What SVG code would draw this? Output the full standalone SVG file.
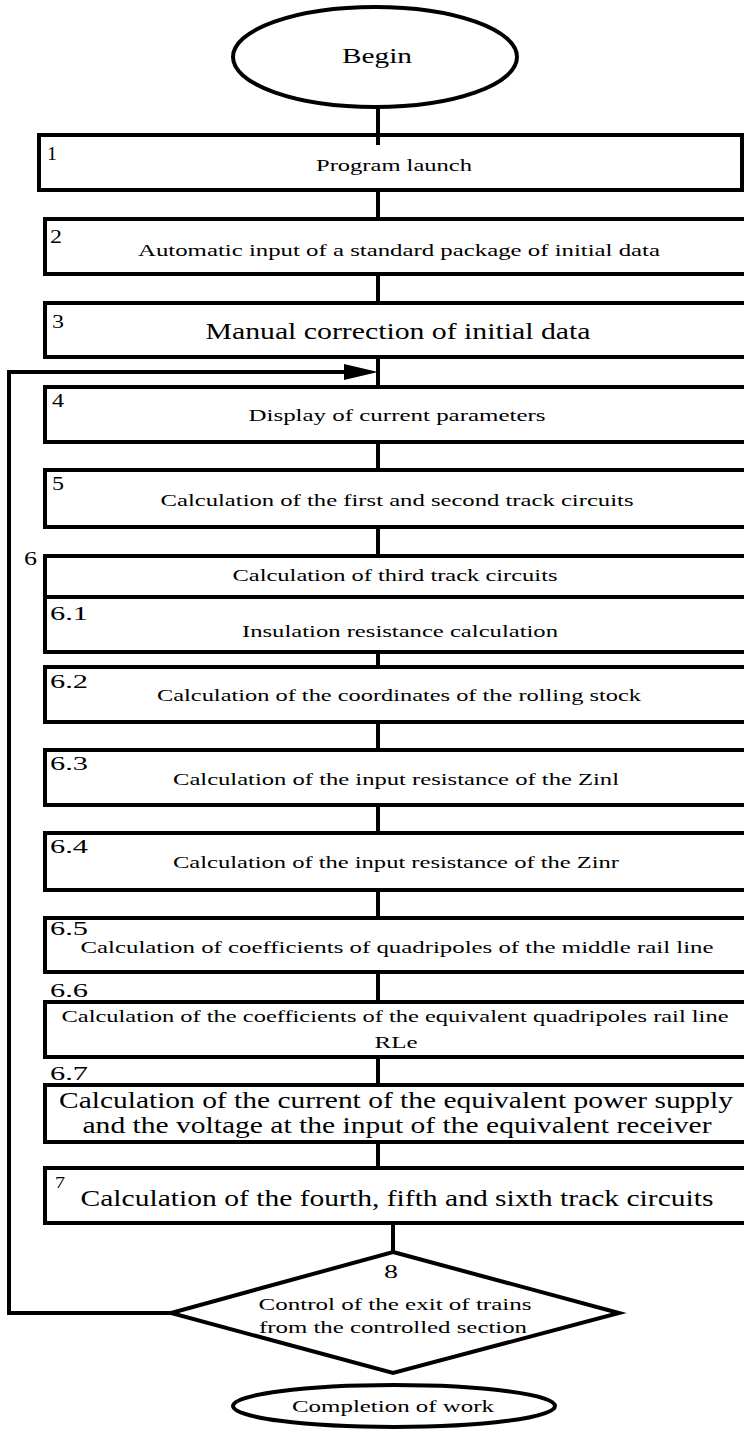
<svg xmlns="http://www.w3.org/2000/svg" width="744" height="1429" viewBox="0 0 744 1429">
<style>
.box{fill:#fff;stroke:#000;stroke-width:4}
.term{fill:#fff;stroke:#000;stroke-width:4}
.ln{fill:none;stroke:#000;stroke-width:4}
text{font-family:"Liberation Serif","Times New Roman",serif;fill:#000}
.t{font-size:16px;text-anchor:middle}
.big{font-size:23px;text-anchor:middle}
.lb{font-size:18px}
</style>
<defs>
<marker id="ah" markerWidth="10" markerHeight="10" refX="0" refY="0" orient="auto" markerUnits="userSpaceOnUse" viewBox="-33 -8 34 16">
<path d="M-33,-8 L0,0 L-33,8 Z" fill="#000"/>
</marker>
</defs>
<g id="connectors">
<line class="ln" x1="378" y1="107" x2="378" y2="145"/>
<line class="ln" x1="378" y1="190" x2="378" y2="219"/>
<line class="ln" x1="378" y1="274" x2="378" y2="303"/>
<line class="ln" x1="378" y1="357" x2="378" y2="387"/>
<line class="ln" x1="378" y1="442" x2="378" y2="470"/>
<line class="ln" x1="378" y1="527" x2="378" y2="556"/>
<line class="ln" x1="378" y1="652" x2="378" y2="667"/>
<line class="ln" x1="378" y1="722" x2="378" y2="750"/>
<line class="ln" x1="378" y1="805" x2="378" y2="833"/>
<line class="ln" x1="378" y1="890" x2="378" y2="918"/>
<line class="ln" x1="378" y1="972" x2="378" y2="1002"/>
<line class="ln" x1="378" y1="1057" x2="378" y2="1085"/>
<line class="ln" x1="378" y1="1142" x2="378" y2="1168"/>
<line class="ln" x1="393" y1="1223" x2="393" y2="1252"/>
<polyline class="ln" points="171,1313 9,1313 9,372 350,372"/>
<path d="M344,364 L378,372 L344,380 Z" fill="#000"/>
</g>
<g id="begin">
<ellipse class="term" cx="375" cy="57" rx="142" ry="50"/>
<text x="377" y="63" font-size="21" text-anchor="middle" textLength="70" lengthAdjust="spacingAndGlyphs">Begin</text>
</g>
<g id="n1">
<rect class="box" x="39" y="135" width="703" height="55"/>
<text class="lb" x="47" y="160" textLength="10" lengthAdjust="spacingAndGlyphs">1</text>
<text class="t" x="394" y="171" textLength="156" lengthAdjust="spacingAndGlyphs">Program launch</text>
</g>
<line class="ln" x1="378" y1="135" x2="378" y2="145"/>
<g id="n2">
<rect class="box" x="45" y="219" width="705" height="55"/>
<text class="lb" x="50" y="243" textLength="12" lengthAdjust="spacingAndGlyphs">2</text>
<text class="t" x="399" y="256" textLength="522" lengthAdjust="spacingAndGlyphs">Automatic input of a standard package of initial data</text>
</g>
<g id="n3">
<rect class="box" x="45" y="303" width="705" height="54"/>
<text class="lb" x="52" y="328" textLength="12" lengthAdjust="spacingAndGlyphs">3</text>
<text x="398" y="339" font-size="24" text-anchor="middle" textLength="385" lengthAdjust="spacingAndGlyphs">Manual correction of initial data</text>
</g>
<g id="n4">
<rect class="box" x="45" y="387" width="705" height="55"/>
<text class="lb" x="52" y="407" textLength="12" lengthAdjust="spacingAndGlyphs">4</text>
<text class="t" x="397" y="421" textLength="297" lengthAdjust="spacingAndGlyphs">Display of current parameters</text>
</g>
<g id="n5">
<rect class="box" x="45" y="470" width="705" height="57"/>
<text class="lb" x="52" y="490" textLength="12" lengthAdjust="spacingAndGlyphs">5</text>
<text class="t" x="397" y="506" textLength="473" lengthAdjust="spacingAndGlyphs">Calculation of the first and second track circuits</text>
</g>
<g id="n6">
<rect class="box" x="45" y="556" width="705" height="96"/>
<line class="ln" x1="45" y1="597" x2="750" y2="597"/>
<text class="lb" x="24" y="565" textLength="13" lengthAdjust="spacingAndGlyphs">6</text>
<text class="t" x="395" y="581" textLength="325" lengthAdjust="spacingAndGlyphs">Calculation of third track circuits</text>
<text class="lb" x="50" y="620" textLength="38" lengthAdjust="spacingAndGlyphs">6.1</text>
<text class="t" x="400" y="637" textLength="316" lengthAdjust="spacingAndGlyphs">Insulation resistance calculation</text>
</g>
<g id="n6_2">
<rect class="box" x="45" y="667" width="705" height="55"/>
<text class="lb" x="50" y="688" textLength="38" lengthAdjust="spacingAndGlyphs">6.2</text>
<text class="t" x="399" y="701" textLength="484" lengthAdjust="spacingAndGlyphs">Calculation of the coordinates of the rolling stock</text>
</g>
<g id="n6_3">
<rect class="box" x="45" y="750" width="705" height="55"/>
<text class="lb" x="50" y="770" textLength="38" lengthAdjust="spacingAndGlyphs">6.3</text>
<text class="t" x="396" y="785" textLength="446" lengthAdjust="spacingAndGlyphs">Calculation of the input resistance of the Zinl</text>
</g>
<g id="n6_4">
<rect class="box" x="45" y="833" width="705" height="57"/>
<text class="lb" x="50" y="853" textLength="38" lengthAdjust="spacingAndGlyphs">6.4</text>
<text class="t" x="396" y="868" textLength="446" lengthAdjust="spacingAndGlyphs">Calculation of the input resistance of the Zinr</text>
</g>
<g id="n6_5">
<rect class="box" x="45" y="918" width="705" height="54"/>
<text class="lb" x="50" y="935" textLength="38" lengthAdjust="spacingAndGlyphs">6.5</text>
<text class="t" x="397" y="953" textLength="633" lengthAdjust="spacingAndGlyphs">Calculation of coefficients of quadripoles  of the middle rail line</text>
</g>
<g id="n6_6">
<rect class="box" x="45" y="1002" width="705" height="55"/>
<text class="lb" x="50" y="997" textLength="38" lengthAdjust="spacingAndGlyphs">6.6</text>
<text class="t" x="395" y="1022" font-size="15" textLength="667" lengthAdjust="spacingAndGlyphs">Calculation of the coefficients of the equivalent quadripoles rail line</text>
<text class="t" x="396" y="1048" font-size="15" textLength="43" lengthAdjust="spacingAndGlyphs">RLe</text>
</g>
<g id="n6_7">
<rect class="box" x="45" y="1085" width="705" height="57"/>
<text class="lb" x="50" y="1080" textLength="38" lengthAdjust="spacingAndGlyphs">6.7</text>
<text class="big" x="396" y="1108" textLength="674" lengthAdjust="spacingAndGlyphs">Calculation of the current of the equivalent power supply</text>
<text class="big" x="397" y="1133" textLength="629" lengthAdjust="spacingAndGlyphs">and the voltage at the input of the equivalent receiver</text>
</g>
<g id="n7">
<rect class="box" x="45" y="1168" width="705" height="55"/>
<text x="55" y="1188" font-size="16" textLength="10" lengthAdjust="spacingAndGlyphs">7</text>
<text class="big" x="397" y="1206" font-size="22" textLength="633" lengthAdjust="spacingAndGlyphs">Calculation of the fourth, fifth and sixth track circuits</text>
</g>
<g id="n8">
<polygon class="box" points="393,1252 619,1313 393,1373 171,1313"/>
<text x="391" y="1278" font-size="19" text-anchor="middle" textLength="14" lengthAdjust="spacingAndGlyphs">8</text>
<text class="t" x="395" y="1310" textLength="273" lengthAdjust="spacingAndGlyphs">Control of the exit of trains</text>
<text class="t" x="393" y="1333" textLength="268" lengthAdjust="spacingAndGlyphs">from the controlled section</text>
</g>
<g id="end">
<ellipse class="term" cx="394" cy="1406" rx="161" ry="21"/>
<text class="t" x="393" y="1412" textLength="202" lengthAdjust="spacingAndGlyphs">Completion of work</text>
</g>
</svg>
